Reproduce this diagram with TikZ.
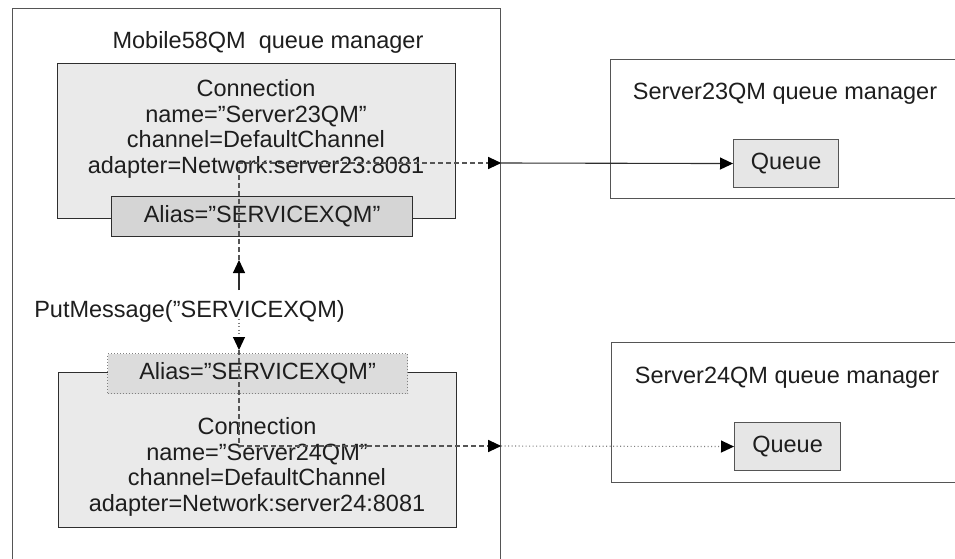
\documentclass[tikz,border=0pt]{standalone}
\usepackage{fontspec}
\setmainfont{Liberation Sans}
\usetikzlibrary{arrows.meta}
\definecolor{boxfill}{HTML}{EAEAEA}
\definecolor{aliasfill}{HTML}{D5D5D5}
\definecolor{aliasfilltwo}{HTML}{DCDCDC}
\definecolor{queuefill}{HTML}{E6E6E6}
\definecolor{linec}{HTML}{2E2E2E}
\definecolor{outerc}{HTML}{555555}
\definecolor{dashc}{HTML}{555555}
\definecolor{dotc}{HTML}{808080}
\definecolor{txtc}{HTML}{1E1E1E}
\begin{document}
\begin{tikzpicture}[x=1pt,y=-1pt,
  txt/.style={font=\fontsize{23.5}{25.5}\selectfont, text=txtc, inner sep=0pt, align=center},
  frame/.style={draw=linec, line width=1.1pt, inner sep=0pt, anchor=north west},
  outerbox/.style={draw=outerc, line width=1.2pt, inner sep=0pt, anchor=north west},
  tip/.style={-{Triangle[length=13pt,width=12pt,color=black]}},
  solidarr/.style={tip, draw=linec, line width=1.1pt},
  dasharr/.style={tip, draw=dashc, line width=1.1pt, dash pattern=on 5pt off 3pt},
  dotarr/.style={tip, draw=dotc, line width=1.1pt, dash pattern=on 1pt off 2.5pt}
]
\clip (0,0) rectangle (955,559);
\fill[white] (0,0) rectangle (955,559);

% outer queue manager boxes
\node[outerbox, minimum width=488pt, minimum height=570pt] (mob) at (12,8) {};
\node[txt, anchor=base] (mobt) at (268,49) {Mobile58QM\ \ queue manager};

\node[outerbox, minimum width=360pt, minimum height=139pt] (s23) at (610,59) {};
\node[txt, anchor=base] (s23t) at (785,100) {Server23QM queue manager};
\node[frame, fill=queuefill, minimum width=105pt, minimum height=48pt, draw=outerc] (q1) at (733,139) {};
\node[txt] (q1t) at (q1.center) {Queue};

\node[outerbox, minimum width=360pt, minimum height=140pt] (s24) at (611,342) {};
\node[txt, anchor=base] (s24t) at (787,383) {Server24QM queue manager};
\node[frame, fill=queuefill, minimum width=106pt, minimum height=48pt, draw=outerc] (q2) at (734,422) {};
\node[txt] (q2t) at (q2.center) {Queue};

% upper connection
\node[frame, fill=boxfill, minimum width=398pt, minimum height=155pt] (c1) at (57,63) {};
\node[txt, anchor=north] (c1t) at (256,79.6) {Connection\\name=”Server23QM”\\channel=DefaultChannel\\adapter=Network:server23:8081};
\node[frame, fill=aliasfill, minimum width=301pt, minimum height=40pt] (a1) at (111,196) {};
\node[txt] (a1t) at (a1.center) {Alias=”SERVICEXQM”};

% lower connection
\node[frame, fill=boxfill, minimum width=398pt, minimum height=155pt] (c2) at (58,372) {};
\node[txt, anchor=north] (c2t) at (257,417.6) {Connection\\name=”Server24QM”\\channel=DefaultChannel\\adapter=Network:server24:8081};
\node[frame, fill=aliasfilltwo, draw=dotc, dash pattern=on 1pt off 2pt, minimum width=300pt, minimum height=40pt] (a2) at (107,353) {};
\node[txt] (a2t) at (a2.center) {Alias=”SERVICEXQM”};

% call label
\node[txt, anchor=base] (pm) at (189.5,317) {PutMessage(”SERVICEXQM)};

% connector points
\coordinate (vtop) at (239,163);
\coordinate (uptip) at (239,260);
\coordinate (upbase) at (239,290);
\coordinate (dntail) at (239,319);
\coordinate (dntip) at (239,350);
\coordinate (vbot) at (239,446);
\coordinate (m1) at (mob.east |- vtop);
\coordinate (m2) at (mob.east |- vbot);

\draw[solidarr] (upbase) -- (uptip);
\draw[dasharr] (uptip) |- (m1);
\draw[solidarr] (m1) -- (q1.west);

\draw[dotarr] (dntail) -- (dntip);
\draw[dasharr] (dntip) |- (m2);
\draw[dotarr] (m2) -- (q2.west);
\end{tikzpicture}
\end{document}
